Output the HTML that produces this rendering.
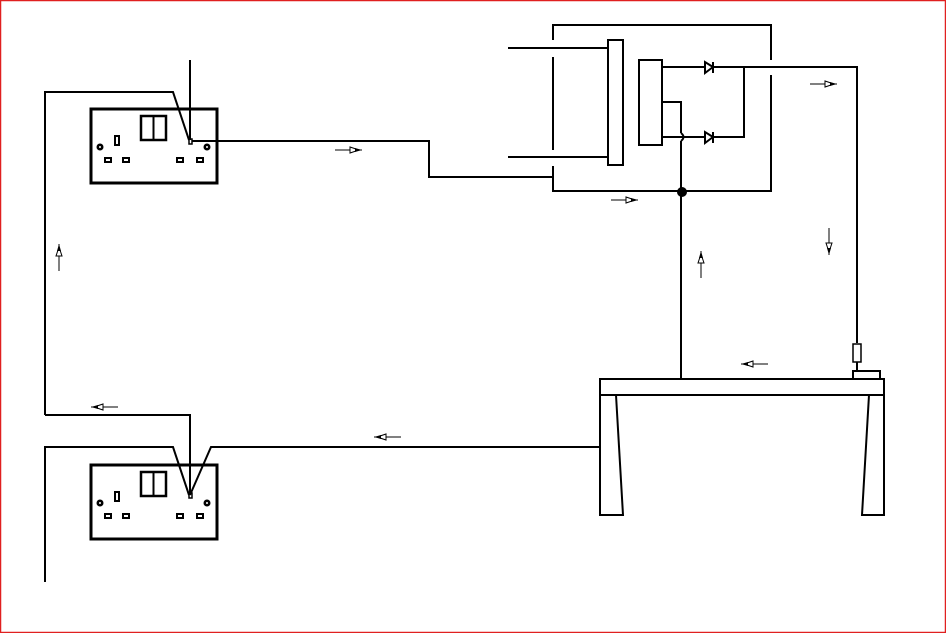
<!DOCTYPE html>
<html><head><style>html,body{margin:0;padding:0;background:#fff}svg{display:block}</style></head>
<body>
<svg width="946" height="633" viewBox="0 0 946 633" xmlns="http://www.w3.org/2000/svg">
<defs>
<g id="ar">
<path d="M0 0H27" stroke="#000" stroke-width="1" fill="none"/>
<path d="M15 -3V3L21 1V-1Z M15 -3L21 -1" stroke="#000" stroke-width="1" fill="#fff"/>
<path d="M20 -2L27 0L20 2Z" fill="#000"/>
</g>
<g id="sock" fill="none" stroke="#000">
<rect x="91" y="0" width="126" height="74" stroke-width="3"/>
<rect x="141" y="7" width="25" height="24" stroke-width="2.5"/>
<line x1="153.5" y1="7" x2="153.5" y2="31" stroke-width="2"/>
<rect x="115" y="27" width="4" height="9" stroke-width="2"/>
<circle cx="100" cy="38" r="3.5" fill="#000" stroke="none"/>
<circle cx="207" cy="38" r="3.5" fill="#000" stroke="none"/>
<circle cx="100" cy="38" r="1" fill="#fff" stroke="none"/>
<circle cx="207" cy="38" r="1" fill="#fff" stroke="none"/>
<rect x="105" y="49" width="6" height="4" stroke-width="2"/>
<rect x="123" y="49" width="6" height="4" stroke-width="2"/>
<rect x="177" y="49" width="6" height="4" stroke-width="2"/>
<rect x="197" y="49" width="6" height="4" stroke-width="2"/>
</g>
</defs>
<rect x="0.5" y="0.5" width="945" height="632" fill="#fff" stroke="#e02020" stroke-width="1.5"/>
<use href="#sock" transform="translate(0,109)"/>
<use href="#sock" transform="translate(0,465)"/>
<g fill="none" stroke="#000" stroke-width="2">
<rect x="189" y="139" width="3" height="5" stroke-width="1.5"/>
<rect x="189" y="493" width="3" height="5" stroke-width="1.5"/>
<!-- wires left -->
<polyline points="190,60 190,140"/>
<polyline points="45,415 45,92 173,92 189,140"/>
<polyline points="192,141 429,141 429,177 553,177"/>
<polyline points="45,415 190,415 190,495"/>
<polyline points="45,582 45,447 173,447 189,495"/>
<polyline points="190,495 211,447 600,447"/>
<!-- top box -->
<polyline points="553,40 553,25 771,25 771,60"/>
<line x1="553" y1="57" x2="553" y2="150"/>
<polyline points="553,166 553,191 771,191 771,75"/>
<line x1="508" y1="48" x2="607" y2="48"/>
<line x1="508" y1="157" x2="607" y2="157"/>
<rect x="608" y="40" width="15" height="125"/>
<rect x="639" y="60" width="23" height="85"/>
<polyline points="662,67 705,67"/>
<path d="M705 62V73L713 67Z M713 62V73"/>
<polyline points="713,67 857,67 857,343"/>
<polyline points="744,67 744,137 713,137"/>
<path d="M705 132V143L713 137Z M713 132V143"/>
<path d="M662 137H705"/>
<polyline points="662,102 681,102 681,133"/>
<path d="M681 133Q686 137 681 141"/>
<line x1="681" y1="141" x2="681" y2="379"/>
<circle cx="682" cy="192" r="5" fill="#000" stroke="none"/>
<!-- fuse -->
<rect x="853" y="344" width="8" height="18" stroke-width="1.5"/>
<line x1="857" y1="362" x2="857" y2="371"/>
<rect x="853" y="371" width="27" height="8"/>
<!-- table -->
<rect x="600" y="379" width="284" height="16"/>
<polyline points="600,395 600,515 623,515 616,395"/>
<polyline points="884,395 884,515 862,515 869,395"/>
</g>
<!-- arrows -->
<use href="#ar" transform="translate(335,150)"/>
<use href="#ar" transform="translate(611,200)"/>
<use href="#ar" transform="translate(810,84)"/>
<use href="#ar" transform="translate(829,228) rotate(90)"/>
<use href="#ar" transform="translate(701,278) rotate(-90)"/>
<use href="#ar" transform="translate(59,271) rotate(-90)"/>
<use href="#ar" transform="translate(768,364) rotate(180)"/>
<use href="#ar" transform="translate(118,407) rotate(180)"/>
<use href="#ar" transform="translate(401,437) rotate(180)"/>
</svg>
</body></html>
